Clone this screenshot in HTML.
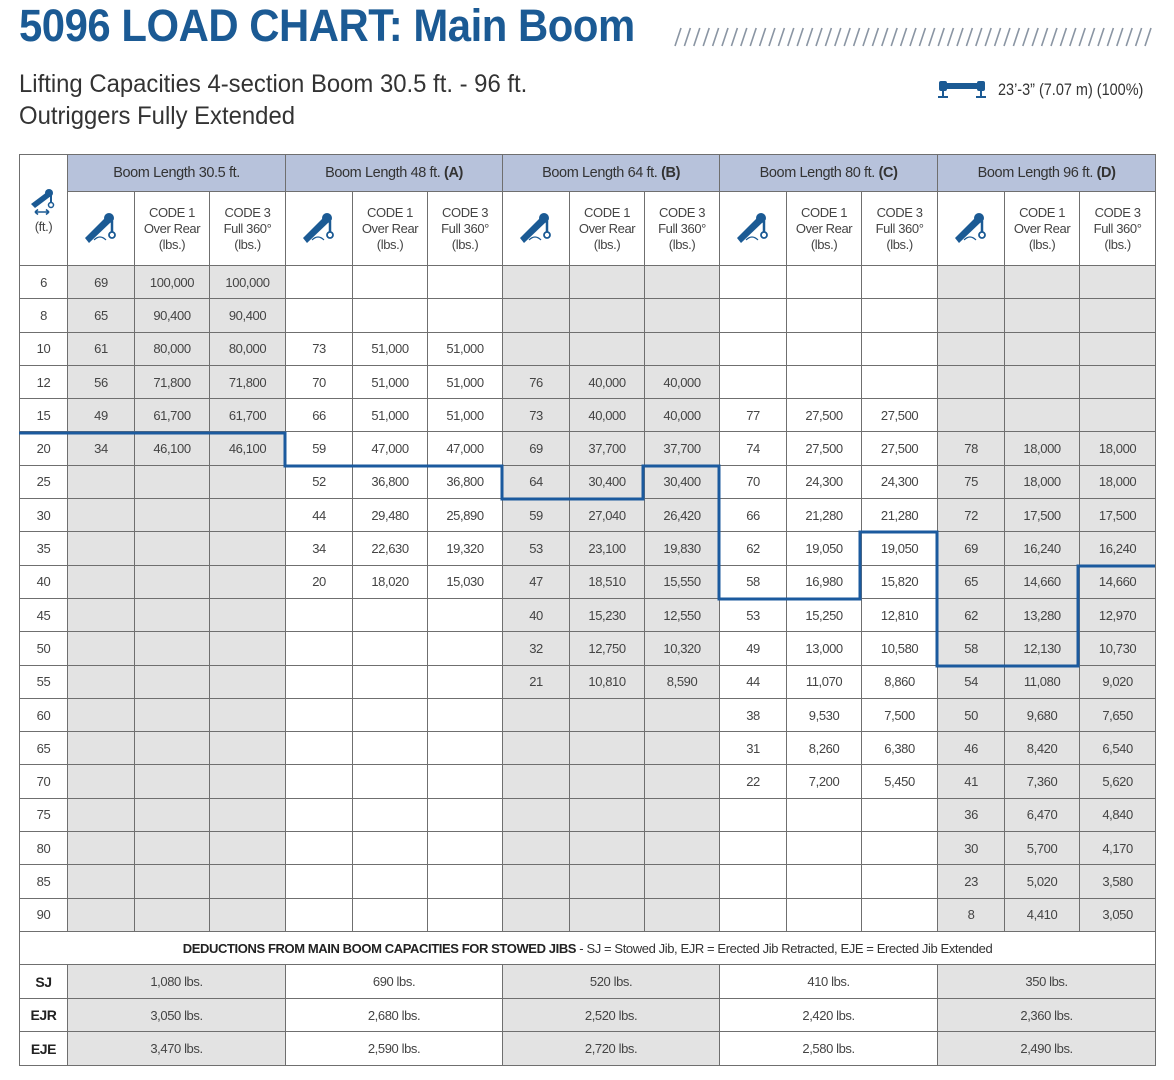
<!DOCTYPE html>
<html><head><meta charset="utf-8"><style>
body{margin:0;width:1174px;height:1080px;background:#fff;position:relative;overflow:hidden;font-family:"Liberation Sans",sans-serif;}
.title{position:absolute;left:19px;top:0px;font-size:45px;font-weight:bold;color:#1b5a94;transform:scaleX(0.93);transform-origin:left top;white-space:nowrap;letter-spacing:-0.5px}
.sub{position:absolute;left:19px;font-size:25px;color:#333;transform:scaleX(0.955);transform-origin:left top;white-space:nowrap}
.ext{position:absolute;left:998px;top:80px;font-size:17px;color:#333;transform:scaleX(0.85);transform-origin:left top;white-space:nowrap}
table{position:absolute;left:19px;top:154px;width:1136px;border-collapse:collapse;table-layout:fixed;font-size:13px;color:#444;letter-spacing:-0.4px}
td{border:1.5px solid #6f6f6f;text-align:center;padding:0;vertical-align:middle}
tr.h1 td{background:#b7c2db;height:36px;font-size:14.5px;color:#333}
tr.h2 td{height:73px;line-height:16px;font-size:13px}
tr.d td{height:32.3px}
tr.d td.g{background:#e3e3e3}
tr.x td{height:32.5px}
tr.x td.g{background:#e3e3e3}
tr.x td.l{font-weight:bold;color:#222;font-size:14px}
</style></head><body>
<div class="title">5096 LOAD CHART: Main Boom</div>
<svg style="position:absolute;left:0;top:0" width="1174" height="60">
<g stroke="#8a95a3" stroke-width="1.6">
<path d="M675 46L681 28M684.4 46L690.4 28M693.8 46L699.8 28M703.2 46L709.2 28M712.6 46L718.6 28M722 46L728 28M731.4 46L737.4 28M740.8 46L746.8 28M750.2 46L756.2 28M759.6 46L765.6 28M769 46L775 28M778.4 46L784.4 28M787.8 46L793.8 28M797.2 46L803.2 28M806.6 46L812.6 28M816 46L822 28M825.4 46L831.4 28M834.8 46L840.8 28M844.2 46L850.2 28M853.6 46L859.6 28M863 46L869 28M872.4 46L878.4 28M881.8 46L887.8 28M891.2 46L897.2 28M900.6 46L906.6 28M910 46L916 28M919.4 46L925.4 28M928.8 46L934.8 28M938.2 46L944.2 28M947.6 46L953.6 28M957 46L963 28M966.4 46L972.4 28M975.8 46L981.8 28M985.2 46L991.2 28M994.6 46L1000.6 28M1004 46L1010 28M1013.4 46L1019.4 28M1022.8 46L1028.8 28M1032.2 46L1038.2 28M1041.6 46L1047.6 28M1051 46L1057 28M1060.4 46L1066.4 28M1069.8 46L1075.8 28M1079.2 46L1085.2 28M1088.6 46L1094.6 28M1098 46L1104 28M1107.4 46L1113.4 28M1116.8 46L1122.8 28M1126.2 46L1132.2 28M1135.6 46L1141.6 28M1145 46L1151 28"/>
</g></svg>
<div class="sub" style="top:70px">Lifting Capacities 4-section Boom 30.5 ft. - 96 ft.</div>
<div class="sub" style="top:102px">Outriggers Fully Extended</div>
<svg style="position:absolute;left:938px;top:78px" width="50" height="22"><rect x="3" y="5" width="42" height="6" fill="#1b5a94"/><rect x="1" y="3" width="8" height="10" rx="2" fill="#1b5a94"/><rect x="39" y="3" width="8" height="10" rx="2" fill="#1b5a94"/><rect x="4" y="12" width="2" height="6" fill="#1b5a94"/><rect x="42" y="12" width="2" height="6" fill="#1b5a94"/><rect x="0" y="18" width="10" height="2" fill="#1b5a94"/><rect x="38" y="18" width="10" height="2" fill="#1b5a94"/></svg>
<div class="ext">23’-3” (7.07 m) (100%)</div>

<table>
<colgroup><col style="width:48px"><col style="width:67px"><col style="width:75px"><col style="width:76px"><col style="width:67px"><col style="width:75px"><col style="width:75px"><col style="width:67px"><col style="width:75px"><col style="width:75px"><col style="width:67px"><col style="width:75px"><col style="width:76px"><col style="width:67px"><col style="width:75px"><col style="width:76px"></colgroup>
<tr class="h1"><td rowspan="2" style="background:#fff;color:#444;font-size:13px"><svg width="34" height="30" viewBox="0 0 34 30"><path d="M4 18L20 6L24 10L8 22Z" fill="#1b5a94"/><circle cx="22" cy="7" r="4" fill="#1b5a94"/><line x1="24" y1="9" x2="24" y2="17" stroke="#1b5a94" stroke-width="2"/><circle cx="24" cy="19" r="2.5" fill="none" stroke="#1b5a94" stroke-width="1.5"/><path d="M8 26H22M8 26l3-2.5M8 26l3 2.5M22 26l-3-2.5M22 26l-3 2.5" stroke="#1b5a94" stroke-width="1.6" fill="none"/></svg><br>(ft.)</td>
<td colspan="3">Boom Length 30.5 ft.</td><td colspan="3">Boom Length 48 ft. <b>(A)</b></td><td colspan="3">Boom Length 64 ft. <b>(B)</b></td><td colspan="3">Boom Length 80 ft. <b>(C)</b></td><td colspan="3">Boom Length 96 ft. <b>(D)</b></td></tr>
<tr class="h2">
<td><svg width="38" height="38" viewBox="0 0 38 38"><path d="M3 30L24 9L29 14L7 35Z" fill="#1b5a94"/><circle cx="27" cy="10" r="5" fill="#1b5a94"/><line x1="30" y1="13" x2="30" y2="24" stroke="#1b5a94" stroke-width="2.5"/><circle cx="30" cy="27" r="3" fill="none" stroke="#1b5a94" stroke-width="1.8"/><path d="M12 32Q18 26 24 32" stroke="#1b5a94" stroke-width="1.2" fill="none"/></svg></td><td>CODE 1<br>Over Rear<br>(lbs.)</td><td>CODE 3<br>Full 360°<br>(lbs.)</td>
<td><svg width="38" height="38" viewBox="0 0 38 38"><path d="M3 30L24 9L29 14L7 35Z" fill="#1b5a94"/><circle cx="27" cy="10" r="5" fill="#1b5a94"/><line x1="30" y1="13" x2="30" y2="24" stroke="#1b5a94" stroke-width="2.5"/><circle cx="30" cy="27" r="3" fill="none" stroke="#1b5a94" stroke-width="1.8"/><path d="M12 32Q18 26 24 32" stroke="#1b5a94" stroke-width="1.2" fill="none"/></svg></td><td>CODE 1<br>Over Rear<br>(lbs.)</td><td>CODE 3<br>Full 360°<br>(lbs.)</td>
<td><svg width="38" height="38" viewBox="0 0 38 38"><path d="M3 30L24 9L29 14L7 35Z" fill="#1b5a94"/><circle cx="27" cy="10" r="5" fill="#1b5a94"/><line x1="30" y1="13" x2="30" y2="24" stroke="#1b5a94" stroke-width="2.5"/><circle cx="30" cy="27" r="3" fill="none" stroke="#1b5a94" stroke-width="1.8"/><path d="M12 32Q18 26 24 32" stroke="#1b5a94" stroke-width="1.2" fill="none"/></svg></td><td>CODE 1<br>Over Rear<br>(lbs.)</td><td>CODE 3<br>Full 360°<br>(lbs.)</td>
<td><svg width="38" height="38" viewBox="0 0 38 38"><path d="M3 30L24 9L29 14L7 35Z" fill="#1b5a94"/><circle cx="27" cy="10" r="5" fill="#1b5a94"/><line x1="30" y1="13" x2="30" y2="24" stroke="#1b5a94" stroke-width="2.5"/><circle cx="30" cy="27" r="3" fill="none" stroke="#1b5a94" stroke-width="1.8"/><path d="M12 32Q18 26 24 32" stroke="#1b5a94" stroke-width="1.2" fill="none"/></svg></td><td>CODE 1<br>Over Rear<br>(lbs.)</td><td>CODE 3<br>Full 360°<br>(lbs.)</td>
<td><svg width="38" height="38" viewBox="0 0 38 38"><path d="M3 30L24 9L29 14L7 35Z" fill="#1b5a94"/><circle cx="27" cy="10" r="5" fill="#1b5a94"/><line x1="30" y1="13" x2="30" y2="24" stroke="#1b5a94" stroke-width="2.5"/><circle cx="30" cy="27" r="3" fill="none" stroke="#1b5a94" stroke-width="1.8"/><path d="M12 32Q18 26 24 32" stroke="#1b5a94" stroke-width="1.2" fill="none"/></svg></td><td>CODE 1<br>Over Rear<br>(lbs.)</td><td>CODE 3<br>Full 360°<br>(lbs.)</td>
</tr>
<tr class="d"><td>6</td><td class="g">69</td><td class="g">100,000</td><td class="g">100,000</td><td></td><td></td><td></td><td class="g"></td><td class="g"></td><td class="g"></td><td></td><td></td><td></td><td class="g"></td><td class="g"></td><td class="g"></td></tr>
<tr class="d"><td>8</td><td class="g">65</td><td class="g">90,400</td><td class="g">90,400</td><td></td><td></td><td></td><td class="g"></td><td class="g"></td><td class="g"></td><td></td><td></td><td></td><td class="g"></td><td class="g"></td><td class="g"></td></tr>
<tr class="d"><td>10</td><td class="g">61</td><td class="g">80,000</td><td class="g">80,000</td><td>73</td><td>51,000</td><td>51,000</td><td class="g"></td><td class="g"></td><td class="g"></td><td></td><td></td><td></td><td class="g"></td><td class="g"></td><td class="g"></td></tr>
<tr class="d"><td>12</td><td class="g">56</td><td class="g">71,800</td><td class="g">71,800</td><td>70</td><td>51,000</td><td>51,000</td><td class="g">76</td><td class="g">40,000</td><td class="g">40,000</td><td></td><td></td><td></td><td class="g"></td><td class="g"></td><td class="g"></td></tr>
<tr class="d"><td>15</td><td class="g">49</td><td class="g">61,700</td><td class="g">61,700</td><td>66</td><td>51,000</td><td>51,000</td><td class="g">73</td><td class="g">40,000</td><td class="g">40,000</td><td>77</td><td>27,500</td><td>27,500</td><td class="g"></td><td class="g"></td><td class="g"></td></tr>
<tr class="d"><td>20</td><td class="g">34</td><td class="g">46,100</td><td class="g">46,100</td><td>59</td><td>47,000</td><td>47,000</td><td class="g">69</td><td class="g">37,700</td><td class="g">37,700</td><td>74</td><td>27,500</td><td>27,500</td><td class="g">78</td><td class="g">18,000</td><td class="g">18,000</td></tr>
<tr class="d"><td>25</td><td class="g"></td><td class="g"></td><td class="g"></td><td>52</td><td>36,800</td><td>36,800</td><td class="g">64</td><td class="g">30,400</td><td class="g">30,400</td><td>70</td><td>24,300</td><td>24,300</td><td class="g">75</td><td class="g">18,000</td><td class="g">18,000</td></tr>
<tr class="d"><td>30</td><td class="g"></td><td class="g"></td><td class="g"></td><td>44</td><td>29,480</td><td>25,890</td><td class="g">59</td><td class="g">27,040</td><td class="g">26,420</td><td>66</td><td>21,280</td><td>21,280</td><td class="g">72</td><td class="g">17,500</td><td class="g">17,500</td></tr>
<tr class="d"><td>35</td><td class="g"></td><td class="g"></td><td class="g"></td><td>34</td><td>22,630</td><td>19,320</td><td class="g">53</td><td class="g">23,100</td><td class="g">19,830</td><td>62</td><td>19,050</td><td>19,050</td><td class="g">69</td><td class="g">16,240</td><td class="g">16,240</td></tr>
<tr class="d"><td>40</td><td class="g"></td><td class="g"></td><td class="g"></td><td>20</td><td>18,020</td><td>15,030</td><td class="g">47</td><td class="g">18,510</td><td class="g">15,550</td><td>58</td><td>16,980</td><td>15,820</td><td class="g">65</td><td class="g">14,660</td><td class="g">14,660</td></tr>
<tr class="d"><td>45</td><td class="g"></td><td class="g"></td><td class="g"></td><td></td><td></td><td></td><td class="g">40</td><td class="g">15,230</td><td class="g">12,550</td><td>53</td><td>15,250</td><td>12,810</td><td class="g">62</td><td class="g">13,280</td><td class="g">12,970</td></tr>
<tr class="d"><td>50</td><td class="g"></td><td class="g"></td><td class="g"></td><td></td><td></td><td></td><td class="g">32</td><td class="g">12,750</td><td class="g">10,320</td><td>49</td><td>13,000</td><td>10,580</td><td class="g">58</td><td class="g">12,130</td><td class="g">10,730</td></tr>
<tr class="d"><td>55</td><td class="g"></td><td class="g"></td><td class="g"></td><td></td><td></td><td></td><td class="g">21</td><td class="g">10,810</td><td class="g">8,590</td><td>44</td><td>11,070</td><td>8,860</td><td class="g">54</td><td class="g">11,080</td><td class="g">9,020</td></tr>
<tr class="d"><td>60</td><td class="g"></td><td class="g"></td><td class="g"></td><td></td><td></td><td></td><td class="g"></td><td class="g"></td><td class="g"></td><td>38</td><td>9,530</td><td>7,500</td><td class="g">50</td><td class="g">9,680</td><td class="g">7,650</td></tr>
<tr class="d"><td>65</td><td class="g"></td><td class="g"></td><td class="g"></td><td></td><td></td><td></td><td class="g"></td><td class="g"></td><td class="g"></td><td>31</td><td>8,260</td><td>6,380</td><td class="g">46</td><td class="g">8,420</td><td class="g">6,540</td></tr>
<tr class="d"><td>70</td><td class="g"></td><td class="g"></td><td class="g"></td><td></td><td></td><td></td><td class="g"></td><td class="g"></td><td class="g"></td><td>22</td><td>7,200</td><td>5,450</td><td class="g">41</td><td class="g">7,360</td><td class="g">5,620</td></tr>
<tr class="d"><td>75</td><td class="g"></td><td class="g"></td><td class="g"></td><td></td><td></td><td></td><td class="g"></td><td class="g"></td><td class="g"></td><td></td><td></td><td></td><td class="g">36</td><td class="g">6,470</td><td class="g">4,840</td></tr>
<tr class="d"><td>80</td><td class="g"></td><td class="g"></td><td class="g"></td><td></td><td></td><td></td><td class="g"></td><td class="g"></td><td class="g"></td><td></td><td></td><td></td><td class="g">30</td><td class="g">5,700</td><td class="g">4,170</td></tr>
<tr class="d"><td>85</td><td class="g"></td><td class="g"></td><td class="g"></td><td></td><td></td><td></td><td class="g"></td><td class="g"></td><td class="g"></td><td></td><td></td><td></td><td class="g">23</td><td class="g">5,020</td><td class="g">3,580</td></tr>
<tr class="d"><td>90</td><td class="g"></td><td class="g"></td><td class="g"></td><td></td><td></td><td></td><td class="g"></td><td class="g"></td><td class="g"></td><td></td><td></td><td></td><td class="g">8</td><td class="g">4,410</td><td class="g">3,050</td></tr>
<tr class="x"><td colspan="16" style="color:#333"><b style="color:#222">DEDUCTIONS FROM MAIN BOOM CAPACITIES FOR STOWED JIBS</b> - SJ = Stowed Jib, EJR = Erected Jib Retracted, EJE = Erected Jib Extended</td></tr>
<tr class="x"><td class="l">SJ</td><td colspan="3" class="g">1,080 lbs.</td><td colspan="3">690 lbs.</td><td colspan="3" class="g">520 lbs.</td><td colspan="3">410 lbs.</td><td colspan="3" class="g">350 lbs.</td></tr>
<tr class="x"><td class="l">EJR</td><td colspan="3" class="g">3,050 lbs.</td><td colspan="3">2,680 lbs.</td><td colspan="3" class="g">2,520 lbs.</td><td colspan="3">2,420 lbs.</td><td colspan="3" class="g">2,360 lbs.</td></tr>
<tr class="x"><td class="l">EJE</td><td colspan="3" class="g">3,470 lbs.</td><td colspan="3">2,590 lbs.</td><td colspan="3" class="g">2,720 lbs.</td><td colspan="3">2,580 lbs.</td><td colspan="3" class="g">2,490 lbs.</td></tr>
</table>
<svg style="position:absolute;left:0;top:0" width="1174" height="1080"><path d="M19 433H285V466H502V499H643V466H719V599H860V532H937V666H1078V566H1155" fill="none" stroke="#1b5a9e" stroke-width="3"/></svg>
</body></html>
